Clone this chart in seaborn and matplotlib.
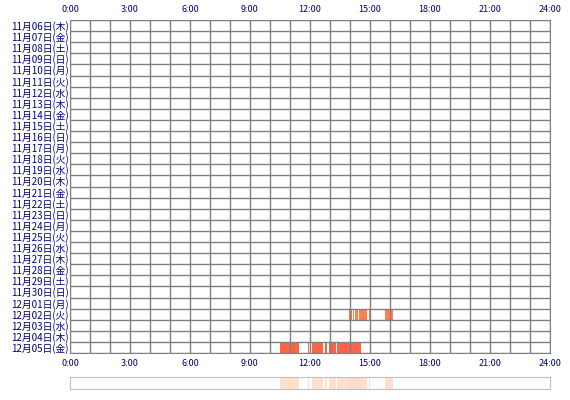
import matplotlib
matplotlib.use("Agg")
import matplotlib.pyplot as plt
import seaborn as sns
import pandas as pd

sns.set_style("white")
plt.rcParams['font.family'] = ['Noto Sans CJK JP', 'DejaVu Sans']

weekdays = ["月", "火", "水", "木", "金", "土", "日"]
dates = pd.date_range("2025-11-06", "2025-12-05")
day_labels = [f"{d.month}月{d.day:02d}日({weekdays[d.weekday()]})" for d in dates]

# active intervals in hours
act_day = ["12月02日", "12月02日", "12月02日", "12月02日", "12月02日", "12月02日",
           "12月05日", "12月05日", "12月05日", "12月05日", "12月05日", "12月05日"]
act_start = [13.95, 14.15, 14.25, 14.45, 14.95, 15.75,
             10.5, 11.88, 12.1, 12.75, 12.95, 13.33]
act_end = [14.1, 14.2, 14.4, 14.85, 15.0, 16.15,
           11.45, 11.97, 12.63, 12.83, 13.28, 14.53]
day_colors = {"12月02日": "#ff7f50", "12月05日": "#ff6347"}

fig = plt.figure(figsize=(5.7, 4), dpi=100)
ax = fig.add_axes([70/570, 1-353/400, 480/570, 333/400])
n = len(day_labels)
short = [l[:6] for l in day_labels]
for d, s, e in zip(act_day, act_start, act_end):
    row = short.index(d)
    ax.barh(row, e - s, left=s, height=1.0, color=day_colors[d], lw=0, zorder=1)
for h in range(25):
    ax.axvline(h, color="#808080", lw=1, zorder=2)
for i in range(n + 1):
    ax.axhline(i - 0.5, color="#808080", lw=1, zorder=2)
ax.set_xlim(0, 24)
ax.set_ylim(n - 0.5, -0.5)
ax.set_xticks(range(0, 25, 3))
ax.set_xticklabels([f"{h}:00" for h in range(0, 25, 3)])
ax.set_yticks(range(n))
ax.set_yticklabels(day_labels)
ax.tick_params(axis="x", top=True, labeltop=True, length=0, labelsize=6.5, colors="#000080", pad=4)
ax.tick_params(axis="y", length=0, labelsize=7, colors="#000080", pad=1)
for sp in ax.spines.values():
    sp.set_color("#808080")

ax2 = fig.add_axes([70/570, 1-389/400, 480/570, 12/400])
for s, e in zip(act_start, act_end):
    ax2.axvspan(s, e, color="#ffd9c4", alpha=0.8, lw=0)
ax2.set_xlim(0, 24)
ax2.set_xticks([])
ax2.set_yticks([])
for sp in ax2.spines.values():
    sp.set_color("#c0c0c0")

fig.savefig("out.png", dpi=100)
